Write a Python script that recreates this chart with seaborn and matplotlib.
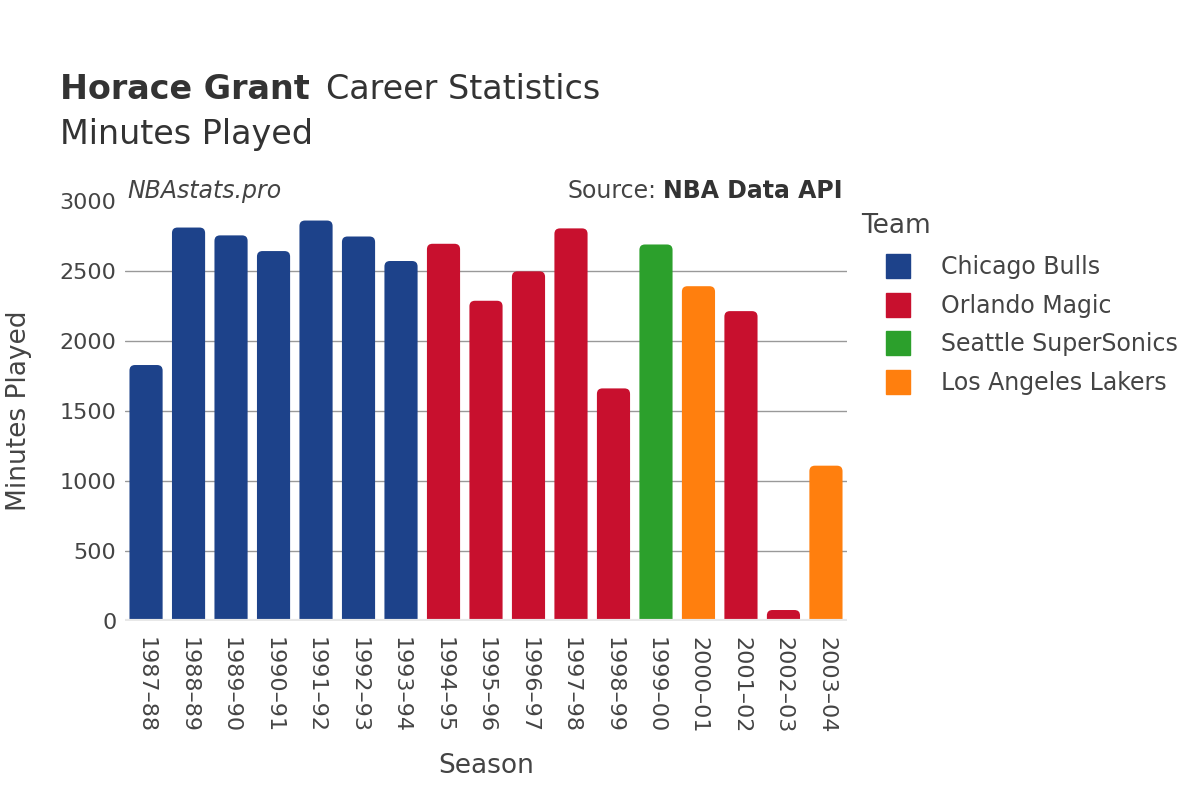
import pandas as pd
import matplotlib.pyplot as plt
import seaborn as sns
from matplotlib.lines import Line2D
from matplotlib.patches import FancyBboxPatch

# Career data
seasons = ["1987–88", "1988–89", "1989–90", "1990–91", "1991–92", "1992–93",
           "1993–94", "1994–95", "1995–96", "1996–97", "1997–98", "1998–99",
           "1999–00", "2000–01", "2001–02", "2002–03", "2003–04"]
minutes = [1827, 2809, 2753, 2641, 2859, 2745, 2570, 2693, 2286, 2496,
           2803, 1660, 2688, 2390, 2212, 77, 1108]
teams = ["Chicago Bulls"] * 7 + ["Orlando Magic"] * 5 + ["Seattle SuperSonics",
         "Los Angeles Lakers", "Orlando Magic", "Orlando Magic", "Los Angeles Lakers"]

team_order = ["Chicago Bulls", "Orlando Magic", "Seattle SuperSonics", "Los Angeles Lakers"]
team_colors = ["#1d428a", "#c8102e", "#2ca02c", "#ff7f0e"]

df = pd.DataFrame({"Season": seasons, "Minutes": minutes, "Team": teams})

sns.set_style("white")
plt.rcParams["font.family"] = ["DejaVu Sans"]
text_color = "#444444"

fig = plt.figure(figsize=(12, 8), dpi=100)
ax = fig.add_axes([0.104, 0.224, 0.602, 0.525])

sns.barplot(data=df, x="Season", y="Minutes", hue="Team", hue_order=team_order,
            palette=team_colors, dodge=False, width=0.78, ax=ax, legend=False,
            saturation=1, linewidth=0)

ax.set_ylim(0, 3000)
ax.set_xlim(-0.5, len(seasons) - 0.5)

# swap the plain bars for ones with rounded tops
aspect = (3000 / 420) / (len(seasons) / 720)
for p in list(ax.patches):
    x, w, h = p.get_x(), p.get_width(), p.get_height()
    if h <= 0:
        continue
    rounded = FancyBboxPatch((x, -60), w, h + 60,
                             boxstyle="round,pad=0,rounding_size=0.13",
                             mutation_aspect=aspect, facecolor=p.get_facecolor(),
                             edgecolor="none", zorder=2)
    p.remove()
    ax.add_patch(rounded)

ax.set_yticks([0, 500, 1000, 1500, 2000, 2500, 3000])
ax.yaxis.grid(True, color="#999999", linewidth=1)
ax.get_ygridlines()[-1].set_visible(False)
ax.set_axisbelow(True)
ax.axhline(0, color="#e8e8e8", linewidth=3, zorder=3)
for s in ax.spines.values():
    s.set_visible(False)

ax.tick_params(axis="x", labelrotation=-90, labelsize=16, colors=text_color, length=0, pad=12)
ax.tick_params(axis="y", labelsize=16, colors=text_color, length=0, pad=6)
ax.set_xlabel("Season", fontsize=19, color=text_color, labelpad=14)
ax.set_ylabel("Minutes Played", fontsize=19, color=text_color, labelpad=20)

# Titles
fig.text(0.05, 0.876, "Horace Grant", fontsize=24, fontweight="bold", color="#333333")
fig.text(0.272, 0.876, "Career Statistics", fontsize=24, color="#333333")
fig.text(0.05, 0.82, "Minutes Played", fontsize=24, color="#333333")

ax.text(0.003, 1.023, "NBAstats.pro", transform=ax.transAxes, fontsize=17,
        style="italic", color=text_color, va="center", ha="left")
src = ax.text(0.993, 1.023, "NBA Data API", transform=ax.transAxes, fontsize=17,
              fontweight="bold", color="#333333", va="center", ha="right")
fig.canvas.draw()
bb = src.get_window_extent()
left = ax.transAxes.inverted().transform((bb.x0 - 6, bb.y0))[0]
ax.text(left, 1.023, "Source:", transform=ax.transAxes, fontsize=17,
        color=text_color, va="center", ha="right")

# Legend
fig.text(0.718, 0.7175, "Team", fontsize=19, color=text_color, va="center", ha="left")
handles = [Line2D([0], [0], marker="s", linestyle="", markersize=17,
                  markerfacecolor=c, markeredgecolor=c) for c in team_colors]
leg = fig.legend(handles, team_order, loc="upper left",
                 bbox_to_anchor=(0.729, 0.681), frameon=False, fontsize=17,
                 handletextpad=0.8, labelspacing=0.62, borderaxespad=0,
                 borderpad=0)
for t in leg.get_texts():
    t.set_color(text_color)

plt.savefig("out.png", dpi=100)
